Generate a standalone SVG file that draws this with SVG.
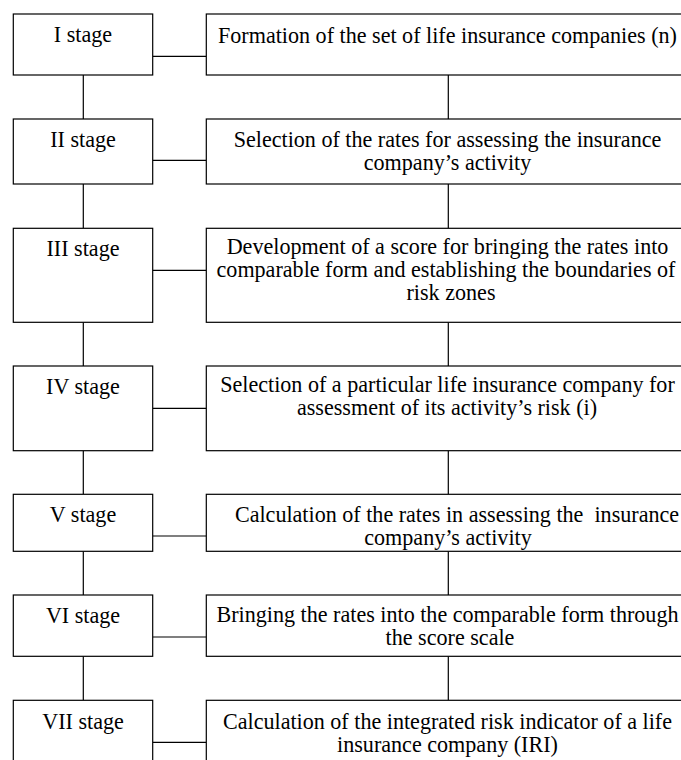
<svg xmlns="http://www.w3.org/2000/svg" width="681" height="760" viewBox="0 0 681 760">
<style>
.box{fill:#fff;stroke:#000;stroke-width:1.2}
.ln{stroke:#000;stroke-width:1.2;fill:none}
text{font-family:"Liberation Serif","Times New Roman",serif;font-size:22.1px;fill:#000;text-anchor:middle}
</style>
<rect width="681" height="760" fill="#fff"/>
<g id="connectors">
<path class="ln" d="M83.3 75V119M83.3 184V228.3M83.3 322.3V366M83.3 450.7V494.3M83.3 551.3V595M83.3 656.3V700.3"/>
<path class="ln" d="M448.3 75V119M448.3 184V228.3M448.3 322.3V366M448.3 450.7V494.3M448.3 551.3V595M448.3 656.3V700.3"/>
<path class="ln" d="M152.7 56.3H206.3M152.7 160.3H206.3M152.7 270.3H206.3M152.7 408.3H206.3M152.7 536H206.3M152.7 637H206.3M152.7 742.3H206.3"/>
</g>
<g id="stage1"><rect class="box" x="13.3" y="14" width="139.4" height="61"/><text x="83" y="42">I stage</text></g>
<g id="stage2"><rect class="box" x="13.3" y="119" width="139.4" height="65"/><text x="83" y="147">II stage</text></g>
<g id="stage3"><rect class="box" x="13.3" y="228.3" width="139.4" height="94"/><text x="83" y="256">III stage</text></g>
<g id="stage4"><rect class="box" x="13.3" y="366" width="139.4" height="84.7"/><text x="83" y="394">IV stage</text></g>
<g id="stage5"><rect class="box" x="13.3" y="494.3" width="139.4" height="57"/><text x="83" y="522">V stage</text></g>
<g id="stage6"><rect class="box" x="13.3" y="595" width="139.4" height="61.3"/><text x="83" y="623">VI stage</text></g>
<g id="stage7"><rect class="box" x="13.3" y="700.3" width="139.4" height="80"/><text x="83" y="728.5">VII stage</text></g>
<g id="step1"><rect class="box" x="206.3" y="14" width="490" height="61"/><text x="447.5" y="42.5">Formation of the set of life insurance companies (n)</text></g>
<g id="step2"><rect class="box" x="206.3" y="119" width="490" height="65"/><text x="447.5" y="147">Selection of the rates for assessing the insurance</text><text x="447.5" y="170.3">company’s activity</text></g>
<g id="step3"><rect class="box" x="206.3" y="228.3" width="490" height="94"/><text x="447.5" y="253.5">Development of a score for bringing the rates into</text><text x="446" y="276.8">comparable form and establishing the boundaries of</text><text x="451" y="300">risk zones</text></g>
<g id="step4"><rect class="box" x="206.3" y="366" width="490" height="84.7"/><text x="447.5" y="391.7">Selection of a particular life insurance company for</text><text x="447" y="415">assessment of its activity’s risk (i)</text></g>
<g id="step5"><rect class="box" x="206.3" y="494.3" width="490" height="57"/><text x="457" y="521.7" xml:space="preserve">Calculation of the rates in assessing the  insurance</text><text x="448" y="544.5">company’s activity</text></g>
<g id="step6"><rect class="box" x="206.3" y="595" width="490" height="61.3"/><text x="447.5" y="621.7">Bringing the rates into the comparable form through</text><text x="450" y="644.5">the score scale</text></g>
<g id="step7"><rect class="box" x="206.3" y="700.3" width="490" height="80"/><text x="447.5" y="728.5">Calculation of the integrated risk indicator of a life</text><text x="447.5" y="751.8">insurance company (IRI)</text></g>
</svg>
